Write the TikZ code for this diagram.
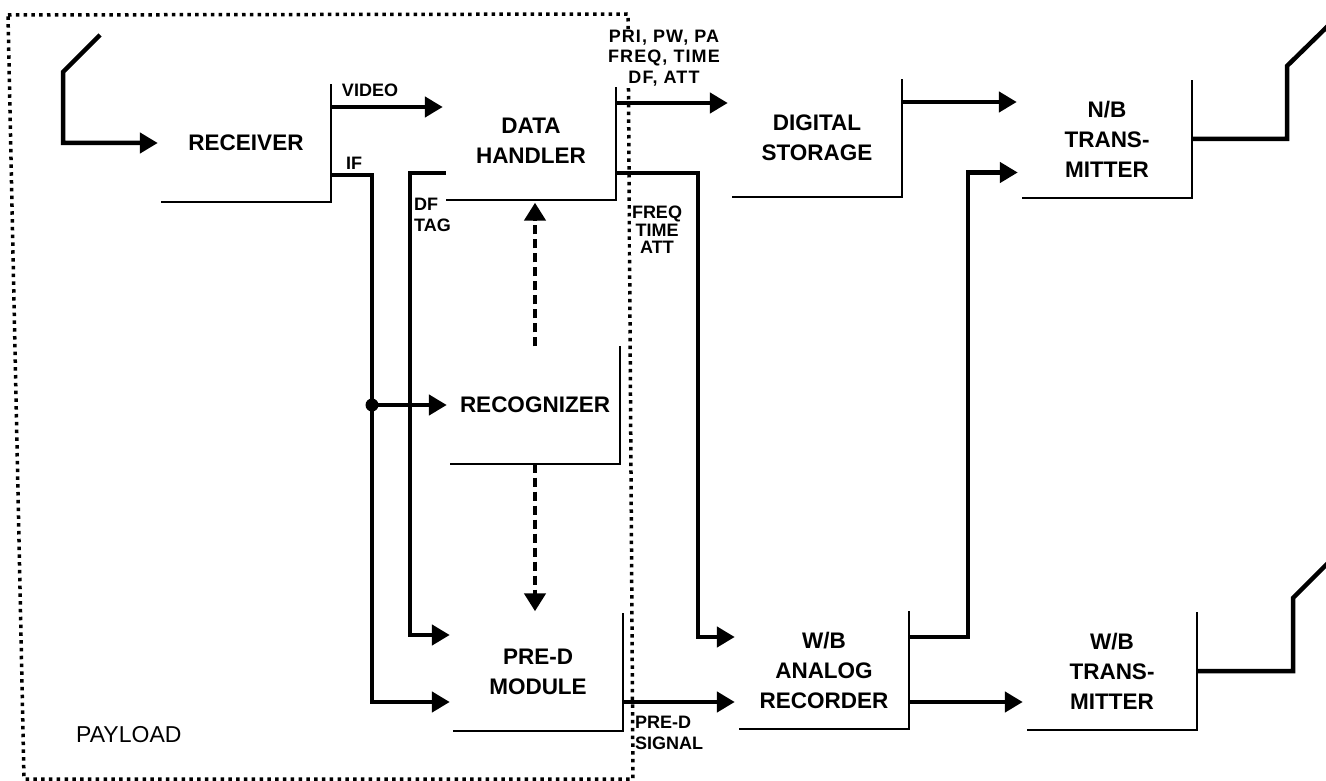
\documentclass[tikz,border=0pt]{standalone}
\usepackage{fontspec}
\setmainfont{Liberation Sans}
\usetikzlibrary{arrows.meta,calc}
\begin{document}
\begin{tikzpicture}[x=1pt,y=-1pt,
  box/.style={minimum width=170pt, minimum height=117pt, inner sep=0pt, align=center, font=\fontsize{22.5}{30}\selectfont\bfseries},
  edge/.style={line width=1.8pt},
  wire/.style={line width=4.5pt, line join=miter},
  conn/.style={wire, -{Triangle[length=18pt,width=20pt]}},
  dsh/.style={line width=4.5pt, dash pattern=on 9pt off 5pt, -{Triangle[length=18pt,width=21pt]}},
  lbl/.style={font=\fontsize{18}{20.5}\selectfont\bfseries, inner sep=1pt, align=center},
  lblw/.style={lbl, fill=white, font=\fontsize{18}{20.5}\selectfont\bfseries\addfontfeature{LetterSpace=6}},
  payload/.style={line width=3.5pt, dash pattern=on 3.5pt off 4.3pt},
]
\useasboundingbox (0,0) rectangle (1326,781);

% payload boundary
\draw[payload] (8,15) -- (628,14) -- (633,779) -- (24,779) -- cycle;

% boxes
\node[box] (rec) at (246,143) {RECEIVER};
\node[box] (dh) at (531,141) {DATA\\HANDLER};
\node[box] (ds) at (817,138) {DIGITAL\\STORAGE};
\node[box] (nb) at (1107,139) {N/B\\TRANS-\\MITTER};
\node[box] (rc) at (535,405) {RECOGNIZER};
\node[box] (pd) at (538,672) {PRE-D\\MODULE};
\node[box] (wa) at (824,670) {W/B\\ANALOG\\RECORDER};
\node[box] (wt) at (1112,671) {W/B\\TRANS-\\MITTER};
\foreach \n in {rec,dh,ds,nb,rc,pd,wa,wt}
  \draw[edge] (\n.north east) |- (\n.south west);

% receiving antenna
\coordinate (a1) at (100,35);
\coordinate (a2) at (63,72);
\draw[conn, shorten >=3pt] (a1) -- (a2) |- (rec.west);

% video
\coordinate (vidS) at ([yshift=36pt]rec.east);
\draw[conn, shorten >=3pt] (vidS) -- (vidS -| dh.west);

% IF
\coordinate (ifS) at ([yshift=-32pt]rec.east);
\coordinate (ifX) at (372,403);
\coordinate (ifE) at ([yshift=-30pt]pd.west);
\draw[conn, shorten >=3pt] (ifS) -| (ifX) |- (ifE);
\fill (ifX |- rc.west) circle (6.5pt);
\draw[conn, shorten >=3pt] (ifX |- rc.west) -- (rc.west);

% DF TAG
\coordinate (dfS) at ([yshift=26.5pt]dh.south west);
\coordinate (dfX) at (410,400);
\coordinate (dfE) at ([yshift=37pt]pd.west);
\draw[conn, shorten >=3pt] (dfS) -| (dfX) |- (dfE);

% data handler -> digital storage
\coordinate (pS) at ([yshift=38pt]dh.east);
\draw[conn, shorten >=4pt] (pS) -- (pS -| ds.west);

% data handler -> analog recorder
\coordinate (fS) at ([yshift=-32pt]dh.east);
\coordinate (fX) at (698,400);
\coordinate (fE) at ([yshift=33pt]wa.west);
\draw[conn, shorten >=4pt] (fS) -| (fX) |- (fE);

% recognizer dashed
\draw[dsh, shorten >=3pt] (rc.north) -- (rc.north |- dh.south);
\draw[dsh, shorten >=2pt] (rc.south) -- (rc.south |- pd.north);

% pre-d signal
\coordinate (sS) at ([yshift=-30pt]pd.east);
\draw[conn, shorten >=4pt] (sS) -- (sS -| wa.west);

% digital storage -> N/B
\coordinate (dS) at ([yshift=36pt]ds.east);
\draw[conn, shorten >=5pt] (dS) -- (dS -| nb.west);

% analog recorder -> N/B
\coordinate (wS) at ([yshift=33pt]wa.east);
\coordinate (wX) at (968,400);
\coordinate (wE) at ([yshift=-33.5pt]nb.west);
\draw[conn, shorten >=4pt] (wS) -| (wX) |- (wE);

% analog recorder -> W/B transmitter
\coordinate (tS) at ([yshift=-32pt]wa.east);
\draw[conn, shorten >=4pt] (tS) -- (tS -| wt.west);

% transmit antennas
\coordinate (r1) at (1287,66);
\coordinate (r2) at (1332,22);
\draw[wire] (nb.east) -| (r1) -- (r2);
\coordinate (s1) at (1293,598);
\coordinate (s2) at (1332,559);
\draw[wire] (wt.east) -| (s1) -- (s2);

% labels
\node[lbl] (lvid) at (370,90) {VIDEO};
\node[lbl] (lif) at (354,163) {IF};
\node[lblw] (lpri) at (664,58) {PRI, PW, PA\\FREQ, TIME\\DF, ATT};
\node[lblw, font=\fontsize{18}{17.5}\selectfont\bfseries] (lfreq) at (657,230) {FREQ\\TIME\\ATT};
\node[lbl, align=left, anchor=west] (ldf) at (413,215) {DF\\TAG};
\node[lbl, align=left, anchor=west] (lsig) at (634,733) {PRE-D\\SIGNAL};
\node[font=\fontsize{23}{26}\selectfont, anchor=west, inner sep=0pt] (lpay) at (76,735) {PAYLOAD};
\end{tikzpicture}
\end{document}
